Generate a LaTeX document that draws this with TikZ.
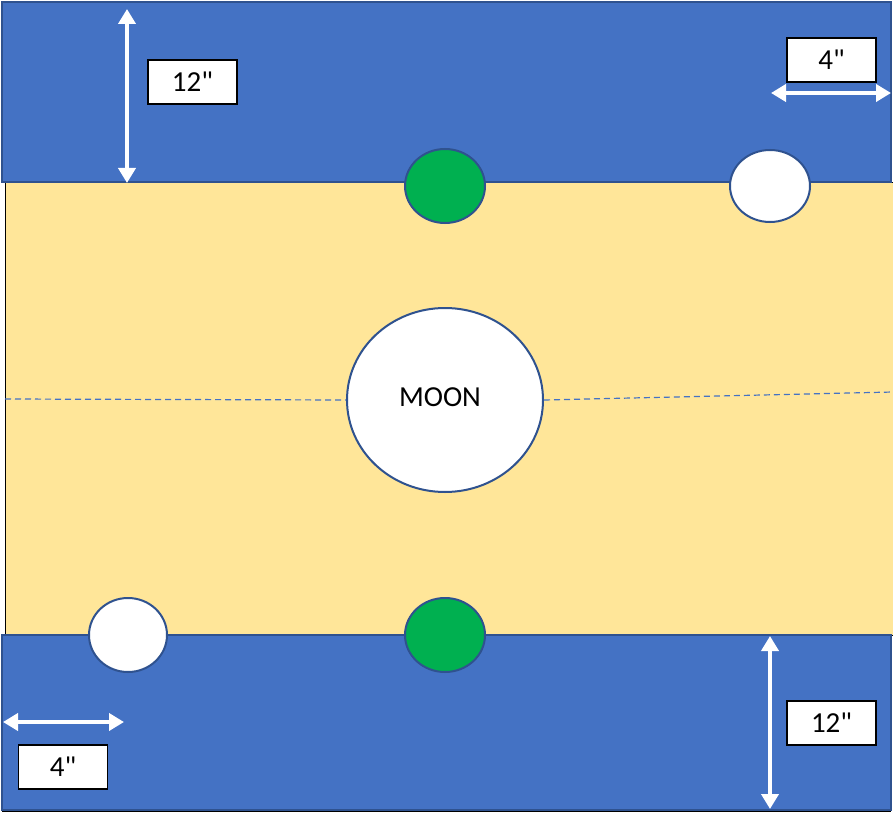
\documentclass[tikz,border=0pt]{standalone}
\usepackage{fontspec}
\setmainfont{Carlito}
\usetikzlibrary{arrows.meta,shapes.geometric}
\definecolor{band}{HTML}{4472C4}
\definecolor{bandline}{HTML}{2F528F}
\definecolor{floor}{HTML}{FFE699}
\definecolor{spot}{HTML}{00B050}
\tikzset{
	disc/.style={draw=bandline, line width=2pt, ellipse, inner sep=0pt},
	tag/.style={draw, fill=white, line width=1.5pt, minimum width=89pt, minimum height=44pt, inner sep=0pt, font=\fontsize{29}{33}\selectfont},
	measure/.style={white, line width=4pt, {Triangle[length=15pt,width=17pt]}-{Triangle[length=15pt,width=17pt]}}
}
\begin{document}
\begin{tikzpicture}[x=1pt,y=-1pt]
	\useasboundingbox (0,0) rectangle (893,813);
	\fill[white] (0,0) rectangle (893,813);
	% field and bands
	\draw[fill=floor, line width=1pt] (5,182) rectangle (895,635);
	\draw[fill=band, draw=bandline, line width=2pt] (2,2) rectangle (891,182);
	\draw[fill=band, draw=bandline, line width=2pt] (2,635) rectangle (891,810);
	\draw[line width=1pt] (2,811) -- (891,811);
	% spots
	\node (g1) [disc, fill=spot, minimum width=80pt, minimum height=74pt] at (445,186) {};
	\node (g2) [disc, fill=spot, minimum width=80pt, minimum height=74pt] at (445,635) {};
	\node (w1) [disc, fill=white, minimum width=80pt, minimum height=72pt] at (770,186) {};
	\node (w2) [disc, fill=white, minimum width=78pt, minimum height=74pt] at (128,635) {};
	\node (moon) [disc, fill=white, minimum width=196pt, minimum height=184pt] at (445,400) {};
	\node (moonlabel) at (440,397) {\fontsize{29}{33}\selectfont MOON};
	% centre line
	\coordinate (cl) at (5,399);
	\coordinate (cr) at (893,392);
	\draw[band, dash pattern=on 6pt off 4pt, line width=1.2pt] (cl) -- (moon.west);
	\draw[band, dash pattern=on 6pt off 4pt, line width=1.2pt] (moon.east) -- (cr);
	% measures
	\coordinate (a1) at (127,9);
	\coordinate (a2) at (127,183);
	\coordinate (b1) at (771,93);
	\coordinate (b2) at (891,93);
	\coordinate (c1) at (3,722);
	\coordinate (c2) at (124,722);
	\coordinate (d1) at (770,636);
	\coordinate (d2) at (770,809);
	\draw[measure] (a1) -- (a2);
	\draw[measure] (b1) -- (b2);
	\draw[measure] (c1) -- (c2);
	\draw[measure] (d1) -- (d2);
	\node (t1) [tag] at (192.5,82) {12\textquotedbl};
	\node (t2) [tag] at (831.5,60) {4\textquotedbl};
	\node (t3) [tag] at (63,767) {4\textquotedbl};
	\node (t4) [tag] at (831.5,723) {12\textquotedbl};
\end{tikzpicture}
\end{document}
